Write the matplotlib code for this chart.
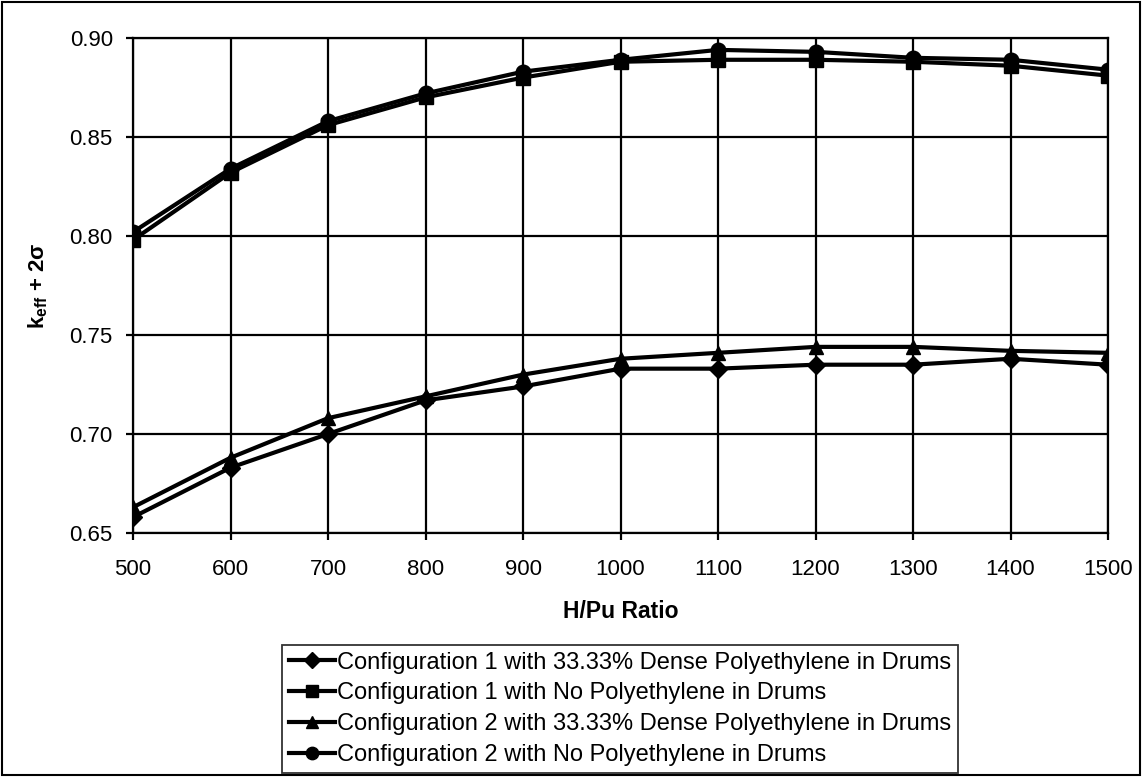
import matplotlib
matplotlib.use("Agg")
import matplotlib.pyplot as plt

plt.rcParams['font.family'] = ['Liberation Sans', 'DejaVu Sans']
plt.rcParams['mathtext.fontset'] = 'custom'
plt.rcParams['mathtext.rm'] = 'Liberation Sans'
plt.rcParams['mathtext.bf'] = 'Liberation Sans:bold'
plt.rcParams['mathtext.it'] = 'Liberation Sans:bold'

# data
h_pu = [500, 600, 700, 800, 900, 1000, 1100, 1200, 1300, 1400, 1500]
cfg1_poly = [0.658, 0.683, 0.700, 0.717, 0.724, 0.733, 0.733, 0.735, 0.735, 0.738, 0.735]
cfg1_nopoly = [0.798, 0.832, 0.856, 0.870, 0.880, 0.888, 0.889, 0.889, 0.888, 0.886, 0.881]
cfg2_poly = [0.663, 0.688, 0.708, 0.719, 0.730, 0.738, 0.741, 0.744, 0.744, 0.742, 0.741]
cfg2_nopoly = [0.802, 0.834, 0.858, 0.872, 0.883, 0.889, 0.894, 0.893, 0.890, 0.889, 0.884]

labels = ['Configuration 1 with 33.33% Dense Polyethylene in Drums',
          'Configuration 1 with No Polyethylene in Drums',
          'Configuration 2 with 33.33% Dense Polyethylene in Drums',
          'Configuration 2 with No Polyethylene in Drums']

W, H = 1142, 777
fig = plt.figure(figsize=(W / 100, H / 100), dpi=100)
ax = fig.add_axes([133/W, 1 - 533/H, (1108-133)/W, (533-38)/H])

ax.plot(h_pu, cfg1_poly, color='black', lw=3, marker='D', ms=9, label=labels[0])
ax.plot(h_pu, cfg1_nopoly, color='black', lw=3, marker='s', ms=10, label=labels[1])
ax.plot(h_pu, cfg2_poly, color='black', lw=3, marker='^', ms=10, label=labels[2])
ax.plot(h_pu, cfg2_nopoly, color='black', lw=3, marker='o', ms=10.5, label=labels[3])

ax.set_xlim(500, 1500)
ax.set_ylim(0.65, 0.90)
ax.set_xticks(h_pu)
ax.set_yticks([0.65, 0.70, 0.75, 0.80, 0.85, 0.90])
ax.set_yticklabels(['0.65', '0.70', '0.75', '0.80', '0.85', '0.90'])
ax.grid(True, color='black', lw=1.6)
ax.set_axisbelow(True)
for s in ax.spines.values():
    s.set_linewidth(1.6)
ax.tick_params(labelsize=16, width=1.6, length=5, direction='out')
ax.tick_params(axis='x', pad=14)
ax.tick_params(axis='y', pad=9.5)
ax.set_xlabel('H/Pu Ratio', fontsize=16.5, fontweight='bold', labelpad=14)
ax.set_ylabel(r'$\mathbf{k_{eff}}$ + 2$\mathbf{\sigma}$', fontsize=16, fontweight='bold', labelpad=14)

leg = fig.legend(loc='lower center', bbox_to_anchor=(620/W, 4/H), fontsize=17,
                 frameon=True, fancybox=False, edgecolor='black', handlelength=1.95,
                 handletextpad=0.1, borderpad=0.3, labelspacing=0.37, borderaxespad=0,
                 markerscale=0.85)
leg.get_frame().set_linewidth(1.3)

# outer border
fig.patches.append(plt.Rectangle((0.002, 0.003), 0.996, 0.994, transform=fig.transFigure,
                                 fill=False, edgecolor='black', lw=1.5))

fig.savefig('out.png', dpi=100)
